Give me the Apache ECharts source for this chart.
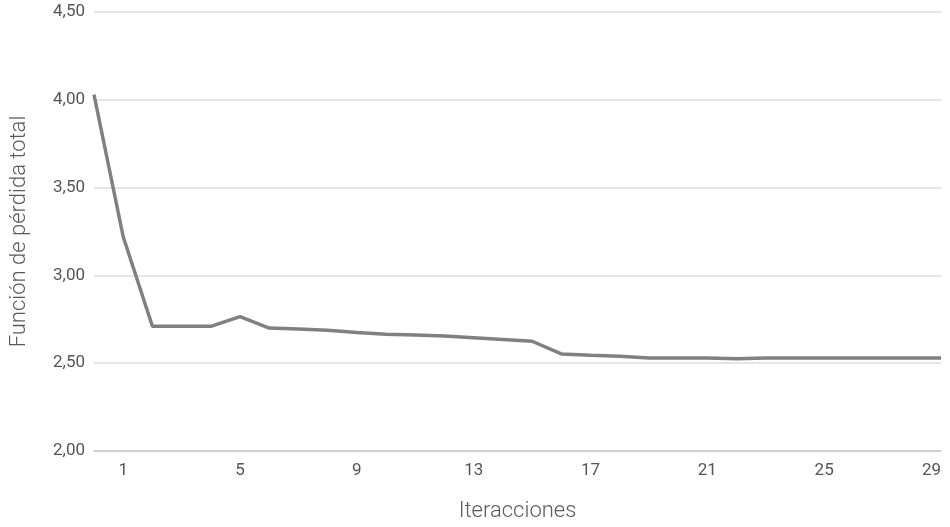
<!DOCTYPE html>
<html>
<head>
<meta charset="utf-8">
<script src="https://cdn.jsdelivr.net/npm/echarts@6/dist/echarts.min.js"></script>
<style>
html,body{margin:0;padding:0;background:#fff;}
#chart{width:950px;height:527px;}
</style>
</head>
<body>
<div id="chart"></div>
<script>
// Iteration numbers (categories)
const iterations = ['0','1','2','3','4','5','6','7','8','9','10','11','12','13','14','15','16','17','18','19','20','21','22','23','24','25','26','27','28','29'];
// Total loss per iteration
const lossValues = [4.03,3.22,2.71,2.71,2.71,2.765,2.70,2.695,2.688,2.675,2.665,2.66,2.655,2.645,2.635,2.625,2.553,2.545,2.54,2.53,2.53,2.53,2.525,2.53,2.53,2.53,2.53,2.53,2.53,2.53];
// Y axis range
const yMin = 2.0, yMax = 4.5, yStep = 0.5;

const FONT = 'Roboto';
const chart = echarts.init(document.getElementById('chart'), null, {renderer:'canvas'});
chart.setOption({
  backgroundColor: '#ffffff',
  animation: false,
  grid: {left: 94, right: 9, top: 12, bottom: 69, containLabel: false},
  xAxis: {
    type: 'category',
    data: iterations,
    boundaryGap: false,
    name: 'Iteracciones',
    nameLocation: 'middle',
    nameGap: 49,
    nameTextStyle: {fontFamily: FONT, fontSize: 22, color: '#5a5a5a', fontWeight: 300},
    axisLine: {show: true, lineStyle: {color: '#c8c8c8', width: 1.5}},
    axisTick: {show: false},
    axisLabel: {
      interval: function(idx){ return idx % 4 === 1; },
      alignMaxLabel: 'right',
      fontFamily: FONT, fontSize: 17, color: '#555555', fontWeight: 'normal', margin: 11
    },
    splitLine: {show: false}
  },
  yAxis: {
    type: 'value',
    min: yMin, max: yMax, interval: yStep,
    name: 'Función de pérdida total',
    nameLocation: 'middle',
    nameGap: 64,
    nameTextStyle: {fontFamily: FONT, fontSize: 22, color: '#5a5a5a', fontWeight: 300},
    axisLine: {show: false},
    axisTick: {show: false},
    axisLabel: {
      formatter: function(v){ return v.toFixed(2).replace('.', ','); },
      fontFamily: FONT, fontSize: 17, color: '#555555', fontWeight: 'normal', margin: 9
    },
    splitLine: {show: true, lineStyle: {color: '#dcdcdc', width: 1.5}}
  },
  series: [{
    type: 'line',
    data: lossValues,
    symbol: 'none',
    smooth: false,
    lineStyle: {color: '#808080', width: 3.5}
  }]
});
</script>
</body>
</html>
